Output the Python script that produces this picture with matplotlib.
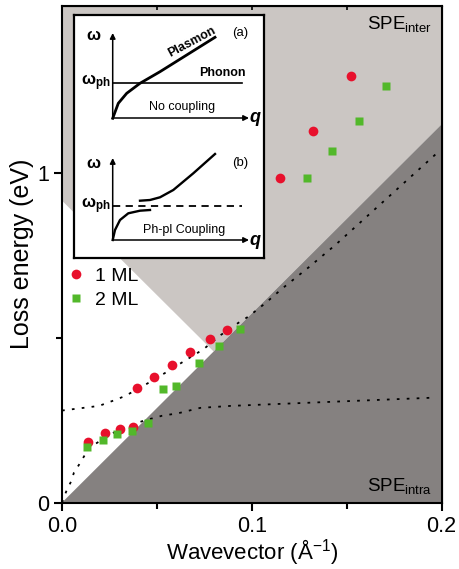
import numpy as np
import matplotlib
matplotlib.use('Agg')
import matplotlib.pyplot as plt

plt.rcParams['font.family'] = ['Liberation Sans', 'DejaVu Sans']
plt.rcParams['mathtext.fontset'] = 'custom'
plt.rcParams['mathtext.rm'] = 'Liberation Sans'
plt.rcParams['mathtext.it'] = 'Liberation Sans:italic'
plt.rcParams['mathtext.bf'] = 'Liberation Sans:bold'

# measured loss peaks
q_1ml = [0.0138, 0.0226, 0.0305, 0.0375, 0.0393, 0.0484, 0.058, 0.0677, 0.0779, 0.0867, 0.1147, 0.1323, 0.1525]
e_1ml = [0.185, 0.212, 0.223, 0.228, 0.347, 0.382, 0.417, 0.455, 0.496, 0.523, 0.983, 1.127, 1.294]
q_2ml = [0.0133, 0.0214, 0.0291, 0.0367, 0.0451, 0.053, 0.06, 0.0723, 0.0828, 0.0937, 0.1293, 0.1425, 0.1563, 0.1709]
e_2ml = [0.170, 0.190, 0.208, 0.218, 0.241, 0.344, 0.352, 0.424, 0.476, 0.525, 0.985, 1.066, 1.157, 1.261]

# coupled-mode dispersion (dotted)
q_up = [0.0, 0.0195, 0.0289, 0.0332, 0.0421, 0.0482, 0.0561, 0.0605, 0.0746, 0.0837, 0.093, 0.0983,
        0.1071, 0.1159, 0.130, 0.1441, 0.1995]
e_up = [0.279, 0.293, 0.313, 0.323, 0.351, 0.372, 0.399, 0.415, 0.465, 0.508, 0.545, 0.564,
        0.604, 0.648, 0.713, 0.781, 1.069]
q_lo = [0.0, 0.0025, 0.0047, 0.0063, 0.0091, 0.0118, 0.0148, 0.0204, 0.025, 0.0341, 0.0429, 0.0526,
        0.0614, 0.0728, 0.0887, 0.1958]
e_lo = [0.0, 0.038, 0.063, 0.091, 0.116, 0.142, 0.168, 0.188, 0.206, 0.23, 0.248, 0.263,
        0.271, 0.287, 0.293, 0.318]

# single-particle excitation regions
q_intra = [0.0, 0.2, 0.2]
e_intra = [0.0, 1.146, 0.0]
q_inter = [0.0, 0.0799, 0.2, 0.2, 0.0]
e_inter = [0.915, 0.458, 1.146, 1.6, 1.6]

# inset schematic (arbitrary units)
qa_pl = [38.7, 44.3, 52.7, 66, 86, 112.7, 141]
wa_pl = [139.7, 154.7, 164.7, 174.7, 186.3, 203, 220.7]
qb_lo = [38.7, 41, 46, 54.3, 66, 76]
wb_lo = [18, 28, 38, 44.7, 47.3, 48]
qb_up = [66, 76, 86, 99.3, 119.3, 141]
wb_up = [57.3, 58, 60.7, 68, 84.7, 104]

fig = plt.figure(figsize=(4.59, 5.69), dpi=100)
ax = fig.add_axes([0.1351, 0.1167, 0.8268, 0.8728])

ax.fill(q_inter, e_inter, color='#cbc6c3', lw=0, zorder=0)
ax.fill(q_intra, e_intra, color='#858180', lw=0, zorder=1)

ax.plot(q_up, e_up, color='k', lw=1.3, dashes=(1.5, 4), zorder=2)
ax.plot(q_lo, e_lo, color='k', lw=1.3, dashes=(1.5, 4), zorder=2)

ax.plot(q_1ml, e_1ml, 'o', color='#e8102c', ms=7, mec='none', label='1 ML', zorder=3)
ax.plot(q_2ml, e_2ml, 's', color='#52b82a', ms=6, mec='none', label='2 ML', zorder=3)

ax.set_xlim(0, 0.2)
ax.set_ylim(0, 1.505)
ax.set_xticks([0.0, 0.1, 0.2])
ax.set_xticklabels(['0.0', '0.1', '0.2'])
ax.set_xticks([0.05, 0.15], minor=True)
ax.set_yticks([0, 1])
ax.set_yticks([0.5], minor=True)
ax.tick_params(which='both', direction='out', width=1.5, labelsize=15.5)
ax.tick_params(which='major', length=6)
ax.tick_params(which='minor', length=4)
for s in ax.spines.values():
    s.set_linewidth(1.5)

top = ax.secondary_xaxis('top')
top.set_xticks([0.0, 0.1, 0.2])
top.set_xticks([0.05, 0.15], minor=True)
top.tick_params(which='both', direction='in', width=1.2, length=3, labeltop=False)
right = ax.secondary_yaxis('right')
right.set_yticks([0, 1])
right.set_yticks([0.5], minor=True)
right.tick_params(which='both', direction='in', width=1.2, length=3, labelright=False)

ax.set_xlabel('Wavevector (Å$^{-1}$)', fontsize=16, labelpad=0)
ax.set_ylabel('Loss energy (eV)', fontsize=18, labelpad=2)

ax.text(0.195, 1.45, 'SPE$_{\\mathrm{inter}}$', fontsize=13.5, ha='right', va='center')
ax.text(0.195, 0.05, 'SPE$_{\\mathrm{intra}}$', fontsize=13.5, ha='right', va='center')

ax.legend(loc='upper left', bbox_to_anchor=(-0.005, 0.49), frameon=False, fontsize=14,
          handlelength=0.8, handletextpad=0.6, labelspacing=0.35, borderaxespad=0)

# inset
ins = fig.add_axes([74 / 459, 1 - 258 / 569, 190 / 459, 243 / 569])
ins.set_xlim(0, 190)
ins.set_ylim(0, 243)
ins.set_xticks([])
ins.set_yticks([])
for s in ins.spines.values():
    s.set_linewidth(1.6)

arw = dict(arrowstyle='-|>', lw=1.1, color='k', mutation_scale=8, shrinkA=0, shrinkB=0)
for y0, ytop in [(140, 225), (18, 100)]:
    ins.annotate('', xy=(38.7, ytop), xytext=(38.7, y0), arrowprops=arw)
    ins.annotate('', xy=(175, y0), xytext=(38.7, y0), arrowprops=arw)
    ins.text(181, y0, 'q', fontsize=13, fontweight='bold', fontstyle='italic', ha='center', va='center')

ins.plot(qa_pl, wa_pl, color='k', lw=2)
ins.plot([38.7, 167.7], [175, 175], color='k', lw=1.2)
ins.plot(qb_lo, wb_lo, color='k', lw=1.7)
ins.plot(qb_up, wb_up, color='k', lw=1.7)
ins.plot([38.7, 167.7], [52, 52], color='k', lw=1.3, dashes=(4, 3))

for yw, yph in [(223, 175), (95, 52)]:
    ins.text(19, yw, 'ω', fontsize=12, fontweight='bold', ha='center', va='center')
    ins.text(37, yph, 'ω$_{\\mathbf{ph}}$', fontsize=12, fontweight='bold', ha='right', va='center')

ins.text(118, 216, 'Plasmon', fontsize=9, fontweight='bold', rotation=28, ha='center', va='center')
ins.text(148, 185, 'Phonon', fontsize=9, fontweight='bold', ha='center', va='center')
ins.text(108, 151, 'No coupling', fontsize=9, ha='center', va='center')
ins.text(166, 225, '(a)', fontsize=9.5, ha='center', va='center')
ins.text(166, 95, '(b)', fontsize=9.5, ha='center', va='center')
ins.text(110, 28, 'Ph-pl Coupling', fontsize=9, ha='center', va='center')

fig.savefig('out.png', dpi=100)
